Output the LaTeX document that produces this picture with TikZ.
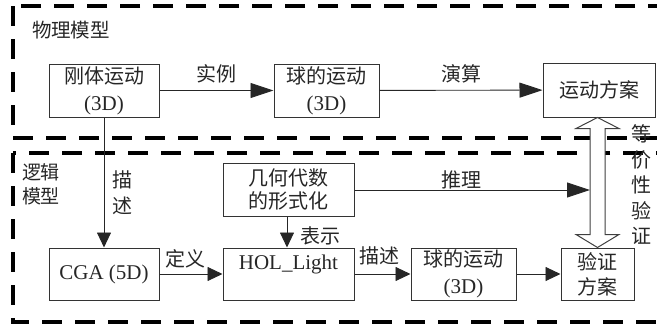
\documentclass[tikz,border=0pt]{standalone}
\usepackage{fontspec}
\setmainfont{Liberation Serif}
\newfontfamily\cjk{Noto Sans CJK SC}
\usetikzlibrary{arrows.meta,calc}
\begin{document}
\begin{tikzpicture}[x=1pt,y=-1pt,
  txt/.style={text=black!85,inner sep=0pt},
  box/.style={draw=black!80,line width=1pt,text=black!85,align=center,inner sep=1pt,font=\fontsize{21}{27}\selectfont},
  lbl/.style={txt,font=\fontsize{20}{24}\selectfont\cjk},
  con/.style={draw=black!85,line width=0.9pt},
  big/.style={con,-{Triangle[length=23pt,width=15pt]}},
  sml/.style={con,-{Triangle[length=15pt,width=14pt]}},
  zone/.style={draw=black,line width=3.5pt,dash pattern=on 20pt off 13pt},
  dbl/.style={draw=black!75,line width=1pt,fill=white}
]
\useasboundingbox (0,0) rectangle (657,324);
\clip (0,0) rectangle (657,324);
% zones
\draw[zone] (13,6) rectangle (720,138);
\draw[zone] (13,153) rectangle (720,322);
\node[lbl,font=\fontsize{19.5}{24}\selectfont\cjk] (t1) at (71,30) {物理模型};
\node[lbl,align=center,font=\fontsize{19}{24}\selectfont\cjk] (t2) at (41,184) {逻辑\\模型};
% boxes
\node[box,minimum width=110pt,minimum height=53pt] (n1) at (104,90.5) {{\cjk\fontsize{20}{27}\selectfont 刚体运动}\\(3D)};
\node[box,minimum width=105pt,minimum height=53pt] (n2) at (326.5,90.5) {{\cjk\fontsize{20}{27}\selectfont 球的运动}\\(3D)};
\node[box,minimum width=112pt,minimum height=54pt,font=\fontsize{20}{27}\selectfont\cjk] (n3) at (599,90) {运动方案};
\node[box,minimum width=131pt,minimum height=53pt,font=\fontsize{20}{23}\selectfont\cjk] (n4) at (288.5,189.5) {几何代数\\的形式化};
\node[box,minimum width=110pt,minimum height=52pt,font=\fontsize{21}{24}\selectfont] (n5) at (104,274) {CGA (5D)};
\node[box,minimum width=131pt,minimum height=52pt,font=\fontsize{21}{24}\selectfont] (n6) at (288.5,274) {HOL\_Light\\\mbox{}};
\node[box,minimum width=105pt,minimum height=52pt] (n7) at (463.5,274) {{\cjk\fontsize{20}{27}\selectfont 球的运动}\\(3D)};
\node[box,minimum width=73pt,minimum height=52pt,font=\fontsize{20}{25}\selectfont\cjk] (n8) at (597.5,274) {验证\\方案};
% double arrow
\coordinate (ta) at ($(n3.south)+(-1.5,0)$);
\coordinate (tb) at (n8.north);
\draw[dbl] (ta) -- ++(-21.5,11) -- ++(14,0) -- ($(tb)+(-7.5,-13)$) -- ++(-14,0) -- (tb) -- ++(21.5,-13) -- ++(-14,0) -- ($(ta)+(7.5,11)$) -- ++(14,0) -- cycle;
\coordinate (sl) at (590,190);
% connectors
\draw[big] (n1) -- node[lbl,above=7pt] (l1) {实例} (n2);
\draw[big] (n2) -- node[lbl,above=7pt] (l2) {演算} (n3);
\draw[sml] (n1.south) -- (n5.north);
\node[lbl,align=center,font=\fontsize{20}{26}\selectfont\cjk] (l3) at (122,193) {描\\述};
\draw[sml] (n4.south -| 287,0) -- (n6.north -| 287,0);
\node[lbl] (l4) at (320,236) {表示};
\draw[sml] (n5) -- (n6);
\node[lbl] (l5) at (185,259) {定义};
\draw[sml] (n6) -- (n7);
\node[lbl] (l6) at (379,256) {描述};
\draw[sml] (n7) -- (n8);
\draw[big] (n4.east |- sl) -- (sl);
\node[lbl] (l7) at (461,180) {推理};
\node[lbl,align=center,font=\fontsize{20}{25.5}\selectfont\cjk] (l8) at (641,185) {等\\价\\性\\验\\证};
\end{tikzpicture}
\end{document}
